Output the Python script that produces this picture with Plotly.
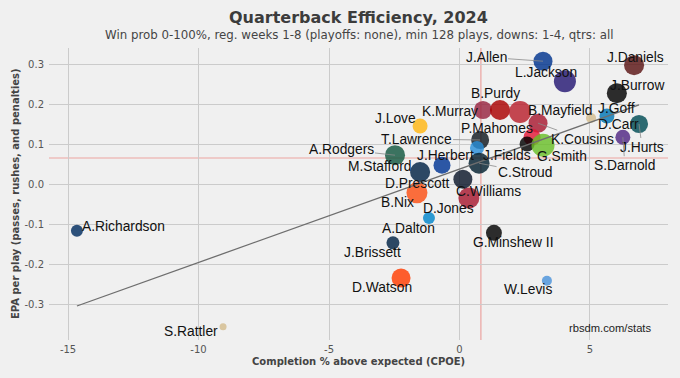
import plotly.graph_objects as go
import numpy as np

# ---------------- data ----------------
players = ["J.Allen", "L.Jackson", "J.Daniels", "J.Burrow", "J.Goff", "D.Carr",
           "J.Hurts", "S.Darnold", "K.Murray", "B.Purdy", "B.Mayfield", "K.Cousins",
           "P.Mahomes", "J.Fields", "G.Smith", "J.Love", "A.Rodgers", "T.Lawrence",
           "J.Herbert", "M.Stafford", "D.Prescott", "C.Stroud", "C.Williams", "B.Nix",
           "D.Jones", "A.Dalton", "J.Brissett", "G.Minshew II", "D.Watson", "W.Levis",
           "A.Richardson", "S.Rattler"]
teams = ["BUF", "BAL", "WAS", "CIN", "DET", "NO",
         "PHI", "MIN", "ARI", "SF", "TB", "ATL",
         "KC", "PIT", "SEA", "GB", "NYJ", "JAX",
         "LAC", "LA", "DAL", "HOU", "CHI", "DEN",
         "NYG", "CAR", "NE", "LV", "CLE", "TEN",
         "IND", "NO"]
cpoe = [3.20, 4.04, 6.69, 6.03, 5.65, 5.04,
        6.88, 6.26, 0.90, 1.55, 2.32, 3.01,
        2.78, 2.59, 3.20, -1.51, -2.47, 0.79,
        0.67, -0.67, -1.51, 0.75, 0.13, -1.63,
        0.36, -1.17, -2.55, 1.32, -2.24, 3.35,
        -14.66, -9.06]
epa = [0.307, 0.257, 0.297, 0.227, 0.170, 0.165,
       0.150, 0.117, 0.185, 0.185, 0.180, 0.152,
       0.117, 0.100, 0.097, 0.145, 0.072, 0.110,
       0.090, 0.047, 0.030, 0.052, 0.012, -0.022,
       -0.035, -0.085, -0.147, -0.122, -0.235, -0.242,
       -0.117, -0.357]
plays = [302, 346, 317, 317, 244, 172,
         288, 244, 288, 317, 346, 302,
         273, 244, 360, 244, 317, 288,
         230, 273, 317, 331, 302, 331,
         331, 200, 215, 258, 302, 172,
         200, 128]

x_ticks = [-15, -10, -5, 0, 5]
x_tick_labels = ["-15", "-10", "-5", "0", "5"]
y_ticks = [-0.3, -0.2, -0.1, 0.0, 0.1, 0.2, 0.3]
y_tick_labels = ["-0.3", "-0.2", "-0.1", "0.0", "0.1", "0.2", "0.3"]

mean_cpoe = 0.82
mean_epa = 0.065
trend_slope = 0.02335
trend_intercept = 0.0373

title = "Quarterback Efficiency, 2024"
subtitle = "Win prob 0-100%, reg. weeks 1-8 (playoffs: none), min 128 plays, downs: 1-4, qtrs: all"
x_title = "Completion % above expected (CPOE)"
y_title = "EPA per play (passes, rushes, and penalties)"
credit = "rbsdm.com/stats"

# ---------------- styles ----------------
team_colors = {
    "BUF": "#00338D", "BAL": "#241773", "WAS": "#5A1414", "CIN": "#000000",
    "DET": "#0076B6", "NO": "#D3BC8D", "PHI": "#004C54", "MIN": "#4F2683",
    "ARI": "#97233F", "SF": "#AA0000", "TB": "#B8202C", "ATL": "#A71930",
    "KC": "#E31837", "PIT": "#000000", "SEA": "#69BE28", "GB": "#FFB612",
    "NYJ": "#125740", "JAX": "#101820", "LAC": "#2A8FD8", "LA": "#003594",
    "DAL": "#002244", "HOU": "#03202F", "CHI": "#0B162A", "DEN": "#FB4F14",
    "NYG": "#A71930", "CAR": "#0085CA", "NE": "#002244", "LV": "#000000",
    "CLE": "#FF3C00", "TEN": "#4B92DB", "IND": "#002C5F",
}

# label offsets in pixels (dx right, dy down) and whether a leader line is drawn
label_layout = {
    "J.Allen": (-57, -4, True), "L.Jackson": (-19, -9, False), "J.Daniels": (1, -8, False),
    "J.Burrow": (20, -8, False), "J.Goff": (10, -8, False), "D.Carr": (27, 6, False),
    "J.Hurts": (3, 23, True), "S.Darnold": (2, 28, True), "K.Murray": (-33, 1, False),
    "B.Purdy": (-4, -17, False), "B.Mayfield": (40, -2, False), "K.Cousins": (44, 16, True),
    "P.Mahomes": (-35, -9, False), "J.Fields": (-20, 11, False), "G.Smith": (19, 11, False),
    "J.Love": (-25, -8, False), "A.Rodgers": (-54, -6, True), "T.Lawrence": (-64, -1, True),
    "J.Herbert": (-31, 7, False), "M.Stafford": (-63, 1, False), "D.Prescott": (-3, 11, False),
    "C.Stroud": (46, 9, True), "C.Williams": (26, 12, False), "B.Nix": (-19, 10, False),
    "D.Jones": (-20, 10, False), "A.Dalton": (-20, 10, False), "J.Brissett": (-20, 10, False),
    "G.Minshew II": (20, 10, False), "D.Watson": (-19, 9, False), "W.Levis": (-19, 9, False),
    "A.Richardson": (47, -4, False), "S.Rattler": (-32, 5, False),
}

BG = "#f0f0f0"
GRID = "#cbcbcb"

sizes = [7 + (p - 128) / 14.5 for p in plays]
colors = [team_colors[t] for t in teams]

fig = go.Figure()

# mean lines
fig.add_shape(type="line", xref="x", yref="paper", x0=mean_cpoe, x1=mean_cpoe, y0=0, y1=1,
              line=dict(color="#eba39f", width=1.2), layer="below")
fig.add_shape(type="line", xref="paper", yref="y", x0=0, x1=1, y0=mean_epa, y1=mean_epa,
              line=dict(color="#eba39f", width=1.2), layer="below")

fig.add_trace(go.Scatter(
    x=cpoe, y=epa, mode="markers",
    marker=dict(size=sizes, color=colors, opacity=0.82, line=dict(width=0)),
    text=players, hoverinfo="text", showlegend=False,
))

# trend line
x_line = np.array([min(cpoe), max(cpoe)])
y_line = trend_intercept + trend_slope * x_line
fig.add_trace(go.Scatter(x=x_line, y=y_line, mode="lines",
                         line=dict(color="#6e6e6e", width=1.3),
                         hoverinfo="skip", showlegend=False))

annotations = []
for name, xv, yv in zip(players, cpoe, epa):
    dx, dy, leader = label_layout[name]
    common = dict(x=xv, y=yv, xref="x", yref="y", text=name,
                  font=dict(family="Liberation Sans, Arial, sans-serif", size=13.8, color="#111111"))
    if leader:
        annotations.append(dict(**common, showarrow=True, ax=dx, ay=dy, arrowhead=0,
                                arrowwidth=0.8, arrowcolor="#8a8a8a", standoff=0))
    else:
        annotations.append(dict(**common, showarrow=False, xshift=dx, yshift=-dy,
                                xanchor="center", yanchor="middle"))

# titles
annotations.append(dict(text=f"<b>{title}</b>", xref="paper", yref="paper", x=0.5, y=1,
                        yshift=31, showarrow=False, xanchor="center", yanchor="middle",
                        font=dict(family="DejaVu Sans", size=16, color="#3c3c3c")))
annotations.append(dict(text=subtitle, xref="paper", yref="paper", x=0.5, y=1,
                        yshift=13, showarrow=False, xanchor="center", yanchor="middle",
                        font=dict(family="DejaVu Sans", size=11.8, color="#444444")))
annotations.append(dict(text=f"<b>{x_title}</b>", xref="paper", yref="paper", x=0.5, y=0,
                        yshift=-21, showarrow=False, xanchor="center", yanchor="middle",
                        font=dict(family="DejaVu Sans", size=10, color="#444444")))
annotations.append(dict(text=f"<b>{y_title}</b>", xref="paper", yref="paper", x=0, y=0.5,
                        xshift=-34, showarrow=False, xanchor="center", yanchor="middle",
                        textangle=-90,
                        font=dict(family="DejaVu Sans", size=10, color="#444444")))
annotations.append(dict(text=credit, xref="paper", yref="paper", x=0.906, y=0.041,
                        showarrow=False, xanchor="center", yanchor="middle",
                        font=dict(family="Liberation Sans, Arial, sans-serif", size=11.2, color="#222222")))

fig.update_layout(
    width=680, height=378,
    margin=dict(l=49, r=12, t=48, b=38),
    paper_bgcolor=BG, plot_bgcolor=BG,
    annotations=annotations,
    showlegend=False,
)
fig.update_xaxes(range=[-15.73, 7.99], tickvals=x_ticks, ticktext=x_tick_labels,
                 showgrid=True, gridcolor=GRID, gridwidth=1.3, zeroline=False,
                 showline=False, ticks="", ticklabelstandoff=2, automargin=False,
                 tickfont=dict(family="DejaVu Sans", size=10, color="#555555"))
fig.update_yaxes(range=[-0.39, 0.34], tickvals=y_ticks, ticktext=y_tick_labels,
                 showgrid=True, gridcolor=GRID, gridwidth=1.3, zeroline=False,
                 showline=False, ticks="", ticklabelstandoff=4, automargin=False,
                 tickfont=dict(family="DejaVu Sans", size=10, color="#555555"))

fig.write_html("out.html", config={"displayModeBar": False},
               post_script="document.body.style.margin='0';document.body.style.background='#f0f0f0';")
